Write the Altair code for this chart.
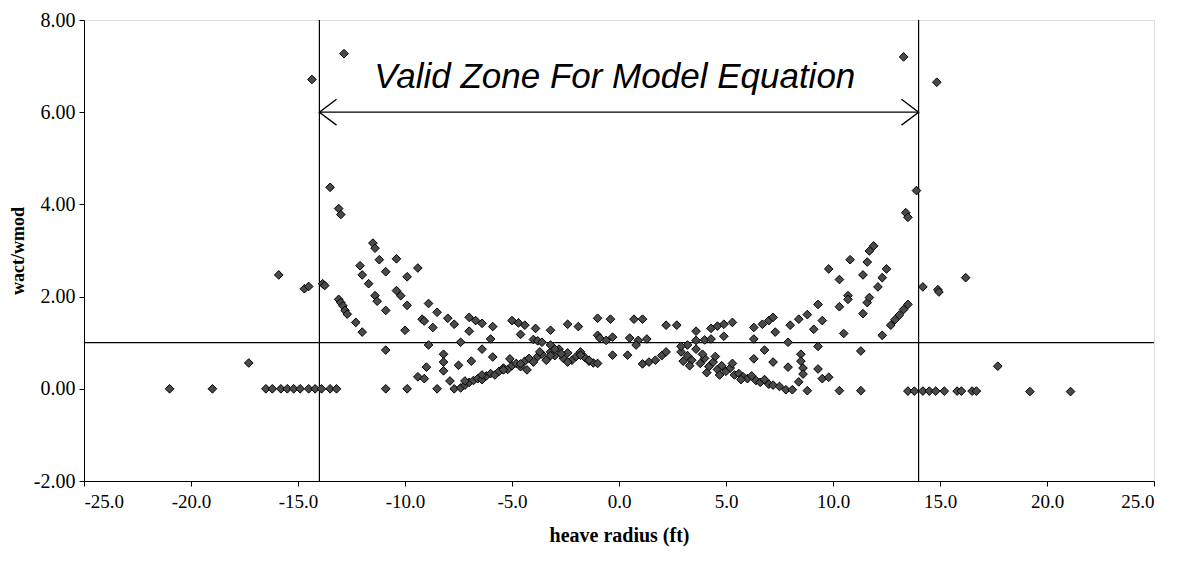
import altair as alt
import pandas as pd

# ---- data ----
xs_left = [-21.0, -19.0, -17.3, -16.5, -16.2, -15.9, -15.8, -15.5, -15.2, -14.9, -14.7, -14.5, -14.5, -14.35, -14.2,
           -13.9, -13.85, -13.75, -13.5, -13.5, -13.2, -13.1, -13.0, -12.85,
           -13.1, -13.0, -12.9, -12.8, -12.7, -12.3, -12.0,
           -12.1, -12.0, -11.7, -11.5, -11.4, -11.4, -11.3, -11.2, -10.9, -10.9, -10.9, -10.9, -10.4, -10.4, -10.2,
           -9.9, -9.9, -10.0, -9.9, -9.4, -8.9, -8.5, -9.2, -9.1, -8.7, -8.0, -7.7, -8.9, -8.5, -9.0, -9.4, -9.1,
           -8.2, -8.2, -8.2, -7.9, -7.7, -7.4, -7.4, -7.5, -7.0, -6.7, -6.4, -7.0, -5.9, -6.0, -6.4, -6.9, -5.9,
           -7.2, -7.0, -6.8, -6.6, -6.4, -6.2, -6.0, -5.8, -5.6, -5.4, -5.2, -5.0, -4.8, -4.6, -4.4, -4.2, -4.0,
           -3.8, -3.6, -3.4, -3.2, -3.0, -2.8, -2.6, -2.4, -2.2, -2.0, -1.8, -1.6, -1.4, -1.2, -1.0,
           -5.1, -4.6, -4.3, -5.4, -6.4, -7.2, -3.7, -3.2, -2.4, -1.8, -1.4,
           -5.0, -4.7, -4.4, -4.6, -3.9, -3.2, -2.4, -1.9, -4.0, -3.8, -3.6, -3.2, -3.0, -2.7,
           -1.0, -1.0, -0.4, -0.9, -0.6, -0.3, -0.3]
ys_left = [0.0, 0.0, 0.56, 0.0, 0.0, 2.47, 0.0, 0.0, 0.0, 0.0, 2.17, 2.22, 0.0, 6.71, 0.0,
           0.0, 2.28, 2.24, 4.37, 0.0, 0.0, 3.91, 3.78, 7.27,
           1.94, 1.87, 1.80, 1.70, 1.62, 1.44, 1.23,
           2.67, 2.47, 2.28, 3.16, 3.05, 2.02, 1.90, 2.80, 1.70, 0.84, 0.0, 2.54, 2.82, 2.13, 2.02,
           2.43, 1.81, 1.27, 0.0, 2.62, 1.85, 1.66, 1.51, 1.47, 1.33, 1.53, 1.40, 0.95, 0.0, 0.47, 0.26, 0.22,
           0.75, 0.58, 0.39, 0.17, 0.0, 0.02, 1.01, 0.51, 1.55, 1.48, 1.42, 1.25, 1.35, 1.08, 0.86, 0.60, 0.69,
           0.08, 0.14, 0.18, 0.22, 0.20, 0.28, 0.33, 0.30, 0.38, 0.45, 0.42, 0.50, 0.55, 0.48, 0.60, 0.66, 0.58,
           0.70, 0.75, 0.62, 0.80, 0.72, 0.86, 0.66, 0.78, 0.62, 0.70, 0.80, 0.68, 0.60, 0.56, 0.55,
           0.65, 0.54, 0.41, 0.41, 0.30, 0.17, 0.80, 0.72, 0.58, 0.73, 0.62,
           1.48, 1.43, 1.38, 1.18, 1.31, 1.27, 1.40, 1.35, 1.07, 1.04, 1.01, 0.95, 0.86, 0.76,
           1.53, 1.16, 1.51, 1.10, 1.05, 1.12, 0.73]

xs_right = [0.4, 0.7, 1.1, 0.5, 0.9, 1.3, 0.8,
            1.1, 1.4, 1.7, 2.0, 2.2,
            2.9, 3.2, 3.4, 3.6, 3.8, 4.0, 4.2, 4.4, 4.6, 4.8, 5.0, 5.2, 5.4, 5.6, 5.8, 6.0, 6.2, 6.4, 6.6, 6.8,
            7.0, 7.2, 7.5, 7.8, 8.1,
            3.0, 3.3, 3.9, 4.5, 4.1, 4.7, 5.3, 5.7, 2.7, 2.2, 3.6, 4.3, 4.6, 4.9, 5.3, 4.9, 3.6, 4.0, 4.3, 3.2, 2.9,
            6.3, 6.3, 6.8, 6.7, 7.0, 7.2, 7.3, 6.3, 7.2, 7.9, 7.9, 8.0, 8.4, 8.8, 9.3, 9.5, 9.1, 10.5, 9.3,
            8.5, 8.5, 8.6, 8.6, 8.4, 9.3, 9.5, 9.8, 8.8, 10.3, 11.3, 11.3,
            9.8, 10.3, 10.8, 11.6, 11.4, 11.7, 11.9, 12.1, 12.3, 12.5, 10.7, 10.7, 11.4, 11.6, 11.7, 10.3,
            12.3, 12.7, 12.9, 13.1, 13.3, 13.5, 13.4, 13.5, 13.9, 14.2, 14.9, 14.95, 13.3, 14.85, 16.2, 17.7,
            13.5, 13.8, 14.2, 14.5, 14.8, 15.2, 15.8, 16.0, 16.5, 16.7, 19.2, 21.1]
ys_right = [0.73, 1.51, 1.51, 1.10, 1.05, 1.08, 0.95,
            0.54, 0.58, 0.62, 0.72, 0.80,
            0.80, 0.72, 0.62, 0.86, 0.55, 0.66, 0.48, 0.58, 0.42, 0.50, 0.38, 0.45, 0.30, 0.33, 0.26, 0.22, 0.28,
            0.18, 0.14, 0.20, 0.10, 0.08, 0.05, -0.02, -0.02,
            0.60, 0.50, 0.75, 0.70, 0.35, 0.30, 0.55, 0.20, 1.38, 1.38, 1.25, 1.31, 1.36, 1.40, 1.44, 1.14, 1.05,
            1.06, 1.08, 0.95, 0.92,
            1.33, 1.08, 0.84, 1.40, 1.48, 1.55, 1.23, 0.65, 0.58, 0.47, 1.01, 1.38, 1.51, 1.61, 1.83, 1.48, 1.29,
            1.20, 0.92,
            0.75, 0.60, 0.45, 0.32, 0.15, 0.43, 0.22, 0.25, -0.04, -0.04, -0.04, 0.82,
            2.60, 2.37, 2.80, 2.75, 2.47, 2.99, 3.10, 2.21, 2.41, 2.60, 2.02, 1.94, 1.63, 1.87, 1.98, 1.78,
            1.16, 1.38, 1.50, 1.60, 1.72, 1.83, 3.82, 3.72, 4.30, 2.21, 2.15, 2.10, 7.20, 6.65, 2.41, 0.49,
            -0.05, -0.05, -0.05, -0.05, -0.05, -0.05, -0.05, -0.05, -0.05, -0.05, -0.06, -0.06]

zone_limits = [-14.0, 14.0]
ref_y = [1.0]
arrow_y = 6.0
arrow_x = [-14.0, 14.0]
label_text = ["Valid Zone For Model Equation"]
label_x = [-0.2]
label_y = [6.52]
x_ticks = [-25, -20, -15, -10, -5, 0, 5, 10, 15, 20, 25]
y_ticks = [-2, 0, 2, 4, 6, 8]

pts = pd.DataFrame({"x": xs_left + xs_right, "y": ys_left + ys_right})

xsc = alt.Scale(domain=[-25, 25], nice=False, zero=False)
ysc = alt.Scale(domain=[-2, 8], nice=False, zero=False)

xax = alt.Axis(values=x_ticks, labelExpr="replace(format(datum.value, '.1f'), '\u2212', '-')",
               title="heave radius (ft)", grid=False,
               labelFont="Liberation Serif", labelFontSize=19, labelColor="black",
               titleFont="Liberation Serif", titleFontSize=20, titleFontWeight="bold", titleColor="black",
               titlePadding=14, domainColor="black", tickColor="black", tickSize=5, labelPadding=6)
yax = alt.Axis(values=y_ticks, labelExpr="replace(format(datum.value, '.2f'), '\u2212', '-')",
               title="wact/wmod", grid=False,
               labelFont="Liberation Serif", labelFontSize=20, labelColor="black",
               titleFont="Liberation Serif", titleFontSize=18, titleFontWeight="bold", titleColor="black",
               titlePadding=6, domainColor="black", tickColor="black", tickSize=5, labelPadding=4)

scatter = alt.Chart(pts).mark_point(shape="diamond", filled=True, size=75, color="#4a4a4a",
                                     stroke="black", strokeWidth=1, opacity=1).encode(
    x=alt.X("x:Q", scale=xsc, axis=xax),
    y=alt.Y("y:Q", scale=ysc, axis=yax),
)

vlines = alt.Chart(pd.DataFrame({"x": zone_limits})).mark_rule(color="black", strokeWidth=1.2).encode(
    x=alt.X("x:Q", scale=xsc))
hline = alt.Chart(pd.DataFrame({"y": ref_y})).mark_rule(color="black", strokeWidth=1.2).encode(
    y=alt.Y("y:Q", scale=ysc))

arrow_df = pd.DataFrame({"x": arrow_x, "y": [arrow_y, arrow_y]})
arrow = alt.Chart(arrow_df).mark_line(color="black", strokeWidth=1.2).encode(
    x=alt.X("x:Q", scale=xsc), y=alt.Y("y:Q", scale=ysc))

head_dx = 0.8
head_dy = 0.28
heads = pd.DataFrame({
    "x": [arrow_x[0] + head_dx, arrow_x[0], arrow_x[0] + head_dx,
          arrow_x[1] - head_dx, arrow_x[1], arrow_x[1] - head_dx],
    "y": [arrow_y + head_dy, arrow_y, arrow_y - head_dy,
          arrow_y + head_dy, arrow_y, arrow_y - head_dy],
    "g": ["L", "L", "L", "R", "R", "R"],
    "o": [0, 1, 2, 0, 1, 2],
})
head_lines = alt.Chart(heads).mark_line(color="black", strokeWidth=1.4).encode(
    x=alt.X("x:Q", scale=xsc), y=alt.Y("y:Q", scale=ysc), detail="g:N", order="o:Q")

label = alt.Chart(pd.DataFrame({"t": label_text, "x": label_x, "y": label_y})).mark_text(
    font="Liberation Sans", fontStyle="italic", fontSize=35, color="black",
    align="center", baseline="alphabetic").encode(
    x=alt.X("x:Q", scale=xsc), y=alt.Y("y:Q", scale=ysc), text="t:N")

chart = alt.layer(vlines, hline, arrow, head_lines, scatter, label).properties(
    width=1070, height=461,
    autosize=alt.AutoSizeParams(type="none"),
    padding={"left": 76, "top": 12, "right": 20, "bottom": 70},
).configure_view(stroke="black", strokeWidth=1).configure(background="white")

chart.save("out.html", embed_options={"renderer": "svg", "actions": False})
